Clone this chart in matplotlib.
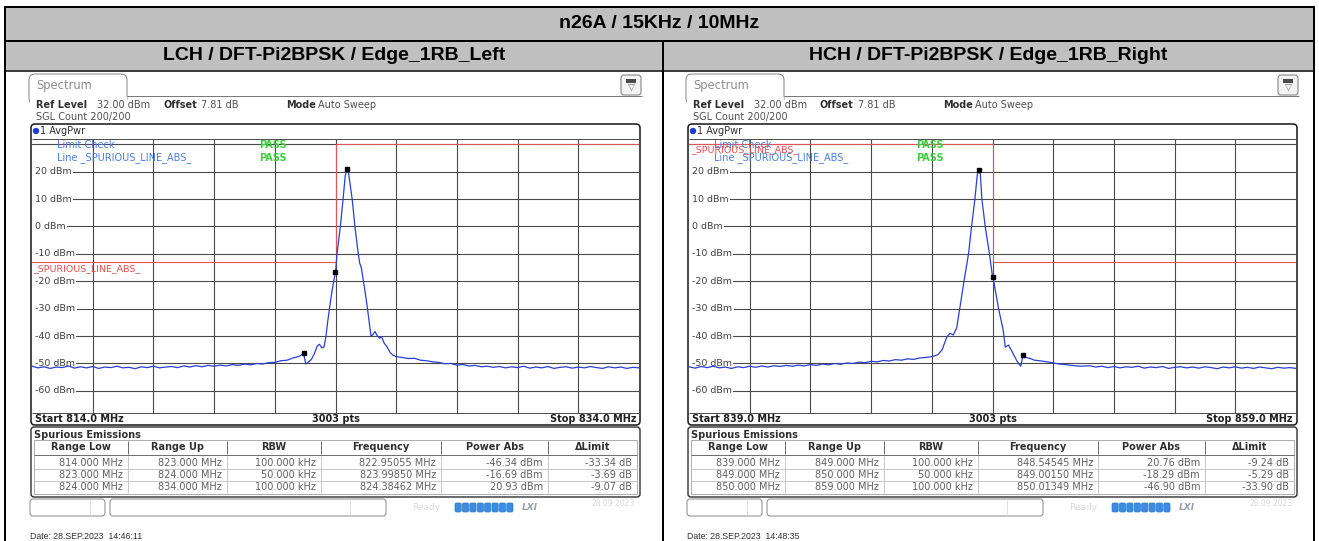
import matplotlib
matplotlib.use('Agg')
import matplotlib.pyplot as plt
from matplotlib.patches import FancyBboxPatch, Rectangle, Circle

# ---------------- data ----------------
TITLE = 'n26A / 15KHz / 10MHz'
SUBTITLES = ['LCH / DFT-Pi2BPSK / Edge_1RB_Left', 'HCH / DFT-Pi2BPSK / Edge_1RB_Right']
START_MHZ = [814.0, 839.0]
STOP_MHZ = [834.0, 859.0]
DATES = ['Date: 28.SEP.2023  14:46:11', 'Date: 28.SEP.2023  14:48:35']
LEVELS = [20, 10, 0, -10, -20, -30, -40, -50, -60]
REF_LEVEL = 32.0
RANGE_DB = 100.0

# limit lines
L_LIMIT_F = [814.0, 824.0, 824.0, 834.0]
L_LIMIT_V = [-13.0, -13.0, 30.0, 30.0]
R_LIMIT_F = [839.0, 849.0, 849.0, 859.0]
R_LIMIT_V = [30.0, 30.0, -13.0, -13.0]

# traces (MHz, dBm)
L_TRACE_F = [814.0, 814.2, 814.4, 814.6, 814.8, 815.0, 815.2, 815.4, 815.6, 815.8,
             816.0, 816.2, 816.4, 816.6, 816.8, 817.0, 817.2, 817.4, 817.6, 817.8,
             818.0, 818.2, 818.4, 818.6, 818.8, 819.0, 819.2, 819.4, 819.6, 819.8,
             820.0, 820.2, 820.4, 820.6, 820.8, 821.0, 821.2, 821.4, 821.6, 821.8,
             822.0, 822.2, 822.4, 822.6, 822.8, 822.95, 823.02, 823.1, 823.2, 823.3,
             823.4, 823.47, 823.55, 823.62, 823.68, 823.74, 823.8, 823.88, 823.94, 824.0,
             824.05, 824.16, 824.25, 824.32, 824.38, 824.43, 824.55, 824.64, 824.75, 824.8,
             824.85, 824.95, 825.03, 825.1, 825.17, 825.23, 825.3, 825.37, 825.45, 825.52,
             825.6, 825.7, 825.8, 825.9, 826.0, 826.2, 826.4, 826.6, 826.8, 827.0,
             827.2, 827.4, 827.6, 827.8, 828.0, 828.2, 828.4, 828.6, 828.8, 829.0,
             829.2, 829.4, 829.6, 829.8, 830.0, 830.2, 830.4, 830.6, 830.8, 831.0,
             831.2, 831.4, 831.6, 831.8, 832.0, 832.2, 832.4, 832.6, 832.8, 833.0,
             833.2, 833.4, 833.6, 833.8, 834.0]
L_TRACE_V = [-51.0, -51.6, -51.2, -51.8, -51.3, -51.5, -50.9, -51.7, -51.2, -51.6,
             -51.1, -51.8, -51.3, -51.5, -51.0, -51.6, -51.4, -51.9, -51.2, -51.5,
             -51.0, -51.6, -51.3, -51.1, -51.5, -50.9, -51.3, -50.8, -51.2, -50.7,
             -51.0, -50.6, -50.9, -50.4, -50.7, -50.2, -50.5, -50.0, -50.2, -49.7,
             -49.6, -49.0, -48.8, -48.0, -47.4, -46.3, -50.2, -49.5, -48.6, -46.5,
             -43.6, -43.0, -44.3, -44.0, -40.5, -35.0, -30.0, -24.0, -20.0, -16.7,
             -10.0, 0.0, 10.0, 18.5, 20.9, 19.5, 10.0, 0.0, -10.0, -13.5,
             -15.0, -22.0, -28.0, -34.0, -40.0, -39.5, -38.3, -39.8, -40.8, -40.2,
             -42.5, -44.0, -46.0, -47.0, -47.5, -47.8, -48.2, -48.1, -48.8, -49.0,
             -49.4, -49.6, -50.1, -50.0, -50.6, -50.4, -50.9, -50.7, -51.2, -51.0,
             -51.4, -51.1, -51.6, -51.2, -51.5, -51.0, -51.7, -51.3, -51.6, -51.1,
             -51.8, -51.4, -51.2, -51.7, -51.3, -51.6, -51.1, -51.5, -51.8, -51.2,
             -51.6, -51.3, -51.8, -51.4, -51.6]

R_TRACE_F = [839.0, 839.2, 839.4, 839.6, 839.8, 840.0, 840.2, 840.4, 840.6, 840.8,
             841.0, 841.2, 841.4, 841.6, 841.8, 842.0, 842.2, 842.4, 842.6, 842.8,
             843.0, 843.2, 843.4, 843.6, 843.8, 844.0, 844.2, 844.4, 844.6, 844.8,
             845.0, 845.2, 845.4, 845.6, 845.8, 846.0, 846.2, 846.4, 846.6, 846.8,
             846.95, 847.1, 847.2, 847.34, 847.5, 847.6, 847.71, 847.82, 847.92, 848.06,
             848.21, 848.31, 848.42, 848.5, 848.545, 848.6, 848.65, 848.76, 848.9, 849.0,
             849.04, 849.2, 849.35, 849.42, 849.53, 849.66, 849.8, 849.93, 850.01, 850.1,
             850.25, 850.38, 850.55, 850.8, 851.0, 851.2, 851.4, 851.6, 851.9, 852.2,
             852.4, 852.6, 852.8, 853.0, 853.2, 853.4, 853.6, 853.8, 854.0, 854.2,
             854.4, 854.6, 854.8, 855.0, 855.2, 855.4, 855.6, 855.8, 856.0, 856.2,
             856.4, 856.6, 856.8, 857.0, 857.2, 857.4, 857.6, 857.8, 858.0, 858.2,
             858.4, 858.6, 858.8, 859.0]
R_TRACE_V = [-51.2, -51.7, -51.1, -51.5, -51.0, -51.6, -51.3, -51.8, -51.2, -51.5,
             -51.0, -51.4, -50.9, -51.3, -50.8, -51.1, -50.7, -51.0, -50.6, -50.9,
             -50.4, -50.7, -50.2, -50.5, -50.0, -50.3, -49.8, -50.0, -49.5, -49.7,
             -49.2, -49.4, -48.9, -49.1, -48.6, -48.8, -48.3, -48.5, -48.0, -47.8,
             -47.6, -47.2, -46.8, -45.0, -40.2, -39.0, -39.6, -37.0, -30.0, -20.0,
             -10.0, 0.0, 10.0, 19.0, 20.8, 19.0, 10.0, 0.0, -10.0, -18.3,
             -20.0, -30.0, -37.7, -44.0, -43.3, -46.0, -49.0, -51.0, -46.9, -47.8,
             -48.2, -48.8, -49.0, -49.4, -49.8, -50.2, -50.4, -50.7, -51.0, -50.8,
             -51.3, -51.0, -51.5, -51.1, -51.6, -51.2, -51.4, -51.0, -51.7, -51.3,
             -51.5, -51.1, -51.8, -51.4, -51.2, -51.6, -51.3, -51.7, -51.2, -51.5,
             -51.9, -51.3, -51.6, -51.2, -51.7, -51.4, -51.8, -51.3, -51.6, -51.9,
             -51.4, -51.7, -51.5, -51.8]

# spurious emissions tables
COLS = ['Range Low', 'Range Up', 'RBW', 'Frequency', 'Power Abs', '\u0394Limit']
L_RANGE_LOW = [814.0, 823.0, 824.0]
L_RANGE_UP = [823.0, 824.0, 834.0]
L_RBW = [100.0, 50.0, 100.0]
L_FREQ = [822.95055, 823.99850, 824.38462]
L_POWER = [-46.34, -16.69, 20.93]
L_DLIMIT = [-33.34, -3.69, -9.07]
R_RANGE_LOW = [839.0, 849.0, 850.0]
R_RANGE_UP = [849.0, 850.0, 859.0]
R_RBW = [100.0, 50.0, 100.0]
R_FREQ = [848.54545, 849.00150, 850.01349]
R_POWER = [20.76, -18.29, -46.90]
R_DLIMIT = [-9.24, -5.29, -33.90]

# ---------------- figure ----------------
W, H = 1319, 541
fig = plt.figure(figsize=(W / 100, H / 100), dpi=100)
fig.patch.set_facecolor('white')
bg = fig.add_axes([0, 0, 1, 1])
bg.set_xlim(0, W)
bg.set_ylim(H, 0)
bg.axis('off')

SANS = 'Liberation Sans'
RS = 'DejaVu Sans'
PX = 0.72  # 1 px in points

def hline(x0, x1, y, c='black', lw=1.0, z=2):
    bg.plot([x0, x1], [y, y], color=c, lw=lw * PX, solid_capstyle='butt', zorder=z)

def vline(x, y0, y1, c='black', lw=1.0, z=2):
    bg.plot([x, x], [y0, y1], color=c, lw=lw * PX, solid_capstyle='butt', zorder=z)

def rbox(x, y, w, h, ec='#808080', fc='white', lw=1.0, r=4, z=1):
    bg.add_patch(FancyBboxPatch((x, y), w, h, boxstyle='round,pad=0,rounding_size=%g' % r,
                                ec=ec, fc=fc, lw=lw * PX, zorder=z))

# outer table
bg.add_patch(Rectangle((5, 7), 1309, 63, fc='#c0c0c0', ec='none', zorder=0))
hline(4, 1315, 7, lw=2)
hline(4, 1315, 41, lw=2)
hline(4, 1315, 70.5, lw=1.5)
vline(5, 7, 541, lw=2)
vline(1314, 7, 541, lw=2)
vline(663, 41, 541, lw=2)
bg.text(659.5, 24, TITLE, ha='center', va='center', fontsize=14, fontweight='bold',
        family=SANS, color='black')
bg.text(334, 56, SUBTITLES[0], ha='center', va='center', fontsize=14, fontweight='bold',
        family=SANS, color='black')
bg.text(988, 56, SUBTITLES[1], ha='center', va='center', fontsize=14, fontweight='bold',
        family=SANS, color='black')

PLOT_TOP = 138.8
PLOT_H = 274.0
PLOT_W = 607.0


def fmt_mhz(v, d=3):
    return ('%.' + str(d) + 'f MHz') % v


def panel(dx, f0, f1, lim_f, lim_v, tr_f, tr_v, rows, mk_f, mk_v, date, red_lbl_xy):
    # tab
    bg.add_patch(FancyBboxPatch((29 + dx, 74), 98, 30, boxstyle='round,pad=0,rounding_size=6',
                                ec='#7a7a7a', fc='white', lw=0.9 * PX, zorder=1))
    bg.add_patch(Rectangle((29.6 + dx, 96.5), 97, 10, fc='white', ec='none', zorder=1.5))
    hline(127 + dx, 642 + dx, 96, c='#7a7a7a', lw=1, z=1.6)
    bg.text(36 + dx, 86, 'Spectrum', fontsize=8.3, family=RS, color='#8c8c8c', va='center', zorder=3)
    # icon top right
    rbox(621 + dx, 75, 20, 20, ec='#7a7a7a', fc='#f4f4f4', r=3, z=2)
    bg.add_patch(Rectangle((626 + dx, 79), 10, 3.5, fc='#4a4a4a', ec='none', zorder=3))
    bg.text(631 + dx, 88.5, '\u25bd', fontsize=6.5, family=RS, color='#707070', ha='center',
            va='center', zorder=3)
    # header texts
    y1 = 105
    bg.text(36 + dx, y1, 'Ref Level', fontsize=7, family=RS, fontweight='bold', color='#303030', va='center')
    bg.text(97 + dx, y1, '32.00 dBm', fontsize=7, family=RS, color='#505050', va='center')
    bg.text(163 + dx, y1, 'Offset', fontsize=7, family=RS, fontweight='bold', color='#303030', va='center')
    bg.text(201 + dx, y1, '7.81 dB', fontsize=7, family=RS, color='#505050', va='center')
    bg.text(286 + dx, y1, 'Mode', fontsize=7, family=RS, fontweight='bold', color='#303030', va='center')
    bg.text(318 + dx, y1, 'Auto Sweep', fontsize=7, family=RS, color='#505050', va='center')
    bg.text(36 + dx, 117, 'SGL Count 200/200', fontsize=7, family=RS, color='#505050', va='center')
    # graph frame
    rbox(31 + dx, 124, 609, 301, ec='#202020', fc='white', lw=1.6, r=4, z=1)
    hline(32 + dx, 639 + dx, PLOT_TOP, c='#505050', lw=1, z=2)
    hline(32 + dx, 639 + dx, PLOT_TOP + PLOT_H, c='#505050', lw=1, z=2)
    bg.add_patch(Circle((36 + dx, 131), 3.2, fc='#1e3ed6', ec='none', zorder=3))
    bg.text(40 + dx, 131, '1 AvgPwr', fontsize=7, family=RS, color='#303030', va='center', zorder=3)
    bg.text(35 + dx, 419.5, 'Start %.1f MHz' % f0, fontsize=7, family=RS, fontweight='bold',
            color='#202020', va='center')
    bg.text(335.5 + dx, 419.5, '%d pts' % 3003, fontsize=7, family=RS, fontweight='bold',
            color='#202020', va='center', ha='center')
    bg.text(636 + dx, 419.5, 'Stop %.1f MHz' % f1, fontsize=7, family=RS, fontweight='bold',
            color='#202020', va='center', ha='right')

    # spectrum axes
    x0 = 32 + dx
    ax = fig.add_axes([x0 / W, 1 - (PLOT_TOP + PLOT_H) / H, PLOT_W / W, PLOT_H / H])
    ax.set_facecolor('none')
    ax.set_xlim(f0, f1)
    ax.set_ylim(REF_LEVEL - RANGE_DB, REF_LEVEL)
    ax.axis('off')
    for lv in [30] + LEVELS:
        ax.axhline(lv, color='#4a4a4a', lw=0.8, zorder=1)
    step = (f1 - f0) / 10.0
    for k in range(1, 10):
        ax.axvline(f0 + k * step, color='#4a4a4a', lw=0.8, zorder=1)
    for lv in LEVELS:
        ax.add_patch(Rectangle((f0, lv - 1.5), 0.16, 3.0, fc='white', ec='none', zorder=2.5))
        ax.text(f0 + 0.11, lv, '%d dBm' % lv, fontsize=6.8, family=RS, color='#404040',
                va='center', ha='left', zorder=3,
                bbox=dict(fc='white', ec='none', pad=0.8))
    ax.plot(lim_f, lim_v, color='#e05555', lw=0.8, zorder=2)
    ax.plot(tr_f, tr_v, color='#2a3fd2', lw=0.9, zorder=4)
    ax.plot(mk_f, mk_v, ls='none', marker='s', ms=2.6, color='black', zorder=5)

    def axpt(px, py):
        return ((px - x0) / PLOT_W, 1 - (py - PLOT_TOP) / PLOT_H)

    tx, ty = axpt(57 + dx, 145)
    ax.text(tx, ty, 'Limit Check', transform=ax.transAxes, fontsize=7, family=RS,
            color='#4a7ee0', va='center', zorder=6)
    tx, ty = axpt(57 + dx, 158)
    ax.text(tx, ty, 'Line _SPURIOUS_LINE_ABS_', transform=ax.transAxes, fontsize=7, family=RS,
            color='#4a7ee0', va='center', zorder=6)
    for yy in (145, 158):
        tx, ty = axpt(259 + dx, yy)
        ax.text(tx, ty, 'PASS', transform=ax.transAxes, fontsize=7, family=RS, fontweight='bold',
                color='#3ccf3c', va='center', zorder=6)
    tx, ty = axpt(red_lbl_xy[0] + dx, red_lbl_xy[1])
    ax.text(tx, ty, '_SPURIOUS_LINE_ABS_', transform=ax.transAxes, fontsize=6.8, family=RS,
            color='#e05050', va='center', zorder=6)

    # spurious emissions table
    rbox(31 + dx, 427, 609, 70, ec='#303030', fc='white', lw=1.4, r=3, z=1)
    bg.text(34 + dx, 434.5, 'Spurious Emissions', fontsize=7, family=RS, fontweight='bold',
            color='#303030', va='center')
    edges = [34, 128, 227, 321, 441, 548, 637]
    bg.add_patch(Rectangle((34 + dx, 440), 603, 54, fc='white', ec='#9a9a9a', lw=0.8 * PX, zorder=2))
    hline(34 + dx, 637 + dx, 455, c='#707070', lw=1, z=3)
    for e in edges[1:-1]:
        vline(e + dx, 441, 454, c='#707070', lw=1, z=3)
        vline(e + dx, 456, 493, c='#c8c8c8', lw=1, z=3)
    hline(34 + dx, 637 + dx, 468.5, c='#c8c8c8', lw=1, z=3)
    hline(34 + dx, 637 + dx, 480.5, c='#c8c8c8', lw=1, z=3)
    for i, c in enumerate(COLS):
        bg.text((edges[i] + edges[i + 1]) / 2 + dx, 447.5, c, fontsize=7, family=RS,
                fontweight='bold', color='#303030', ha='center', va='center', zorder=4)
    row_y = [462.5, 474.5, 486.5]
    for r in range(3):
        vals = [fmt_mhz(rows[0][r]), fmt_mhz(rows[1][r]), '%.3f kHz' % rows[2][r],
                fmt_mhz(rows[3][r], 5), '%.2f dBm' % rows[4][r], '%.2f dB' % rows[5][r]]
        for i, v in enumerate(vals):
            bg.text(edges[i + 1] - 5 + dx, row_y[r], v, fontsize=7, family=RS, color='#606060',
                    ha='right', va='center', zorder=4)

    # status bar
    rbox(30 + dx, 499, 75, 17, ec='#8a8a8a', fc='white', lw=1, r=3, z=1)
    vline(90 + dx, 500, 515, c='#e0e0e0', lw=1)
    rbox(110 + dx, 499, 276, 17, ec='#8a8a8a', fc='white', lw=1, r=3, z=1)
    vline(350 + dx, 500, 515, c='#e0e0e0', lw=1)
    bg.text(412 + dx, 507.5, 'Ready', fontsize=6.5, family=RS, color='#dadada', va='center')
    for k in range(8):
        bg.add_patch(FancyBboxPatch((455 + k * 7.4 + dx, 503), 6.2, 9,
                                    boxstyle='round,pad=0,rounding_size=1.5',
                                    fc='#3a8de2', ec='#2f78c8', lw=0.5, zorder=3))
    bg.text(522 + dx, 507.5, 'LXI', fontsize=6.5, family=RS, fontweight='bold', style='italic',
            color='#9aa0a8', va='center')
    bg.text(592 + dx, 503, '28.09.2023', fontsize=5.5, family=RS, color='#d8d8d8', va='center')
    bg.text(30 + dx, 536.5, date, fontsize=6.3, family=SANS, color='#303030', va='center')


panel(0, START_MHZ[0], STOP_MHZ[0], L_LIMIT_F, L_LIMIT_V, L_TRACE_F, L_TRACE_V,
      [L_RANGE_LOW, L_RANGE_UP, L_RBW, L_FREQ, L_POWER, L_DLIMIT], L_FREQ, L_POWER, DATES[0],
      (33, 269))
panel(657, START_MHZ[1], STOP_MHZ[1], R_LIMIT_F, R_LIMIT_V, R_TRACE_F, R_TRACE_V,
      [R_RANGE_LOW, R_RANGE_UP, R_RBW, R_FREQ, R_POWER, R_DLIMIT], R_FREQ, R_POWER, DATES[1],
      (34.5, 150))

fig.savefig('out.png', dpi=100, facecolor='white')
